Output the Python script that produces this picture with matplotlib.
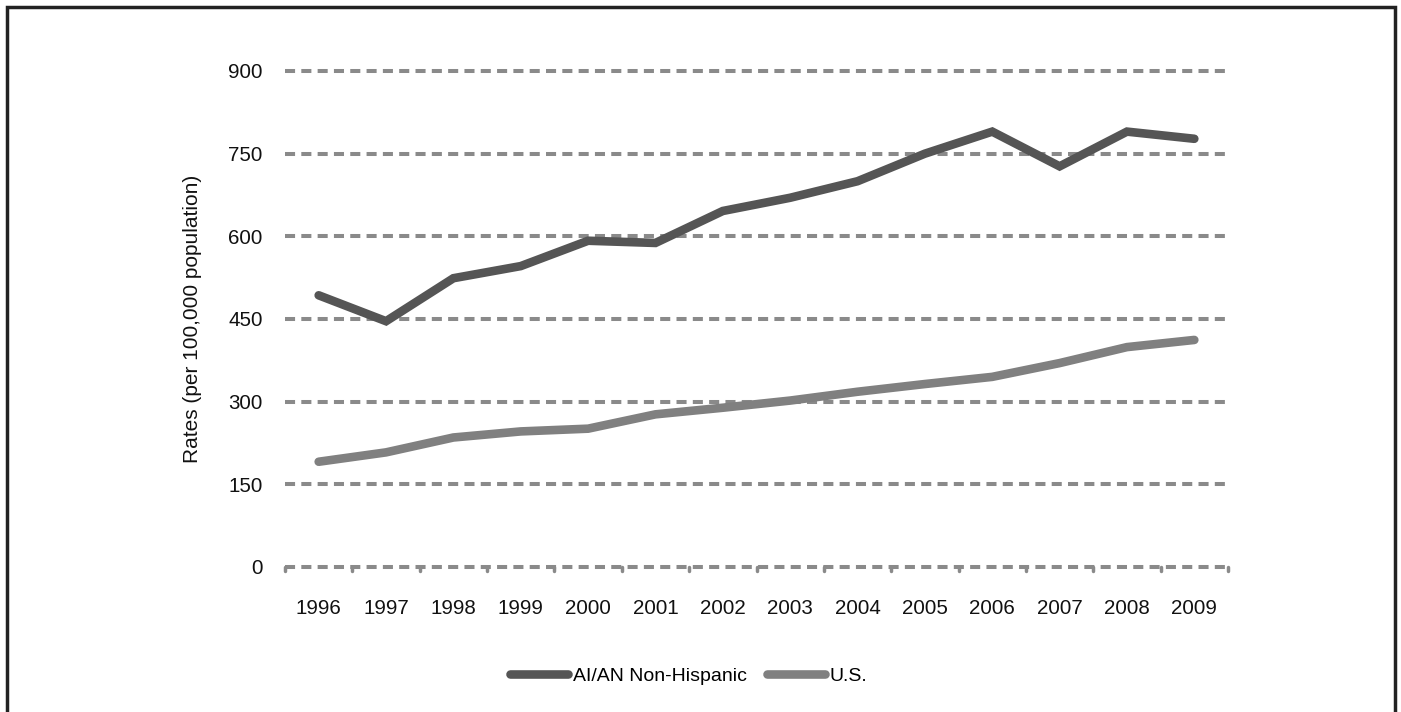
import numpy as np
import matplotlib
matplotlib.use("Agg")
import matplotlib.pyplot as plt
from matplotlib.patches import Rectangle

plt.rcParams['font.family'] = ['Liberation Sans', 'DejaVu Sans']

years = ['1996', '1997', '1998', '1999', '2000', '2001', '2002',
         '2003', '2004', '2005', '2006', '2007', '2008', '2009']
aian = [493, 446, 524, 546, 592, 588, 646, 670, 700, 750, 790, 727, 790, 777]
us = [191, 208, 235, 246, 251, 277, 289, 302, 318, 332, 345, 370, 399, 412]
yticks = [0, 150, 300, 450, 600, 750, 900]

W, H = 1401, 712
fig = plt.figure(figsize=(W / 100, H / 100), dpi=100)
ax = fig.add_axes([285 / W, 1 - 567 / H, (1228 - 285) / W, (567 - 71) / H])

x = np.arange(len(years))
ax.set_xlim(-0.5, len(years) - 0.5)
ax.set_ylim(0, 900)

# dashed gridlines
for v in yticks:
    ax.axhline(v, color='#8a8a8a', lw=2.9, dashes=(2.5, 1.55), zorder=1,
               clip_on=False)
# small category ticks on the baseline
for b in np.arange(-0.5, len(years), 1):
    ax.plot([b, b], [0, -7], color='#8a8a8a', lw=2.5, clip_on=False,
            solid_capstyle='round')

ax.plot(x, aian, color='#555555', lw=6.2, solid_capstyle='round',
        solid_joinstyle='miter', label='AI/AN Non-Hispanic', zorder=3)
ax.plot(x, us, color='#808080', lw=6.2, solid_capstyle='round',
        solid_joinstyle='miter', label='U.S.', zorder=3)

for s in ax.spines.values():
    s.set_visible(False)
ax.set_yticks(yticks)
ax.set_yticklabels([str(v) for v in yticks])
ax.set_xticks(x)
ax.set_xticklabels(years)
ax.tick_params(axis='both', length=0, labelsize=14.8, colors='#111111')
ax.tick_params(axis='y', pad=16)
ax.tick_params(axis='x', pad=23)
ax.set_ylabel('Rates (per 100,000 population)', fontsize=15, labelpad=19,
              color='#111111')

leg = ax.legend(loc='center left', bbox_to_anchor=((510 - 285) / (1228 - 285), -0.22),
                ncol=2, frameon=False, fontsize=14, handlelength=3.0,
                handletextpad=0.25, columnspacing=1.0, borderpad=0,
                borderaxespad=0)

fig.patches.append(Rectangle((7 / W, -0.1), (1395 - 7) / W, 1.1 - 7 / H,
                             transform=fig.transFigure, fill=False,
                             edgecolor='#222222', lw=2.5))

fig.savefig('out.png', dpi=100, facecolor='white')
